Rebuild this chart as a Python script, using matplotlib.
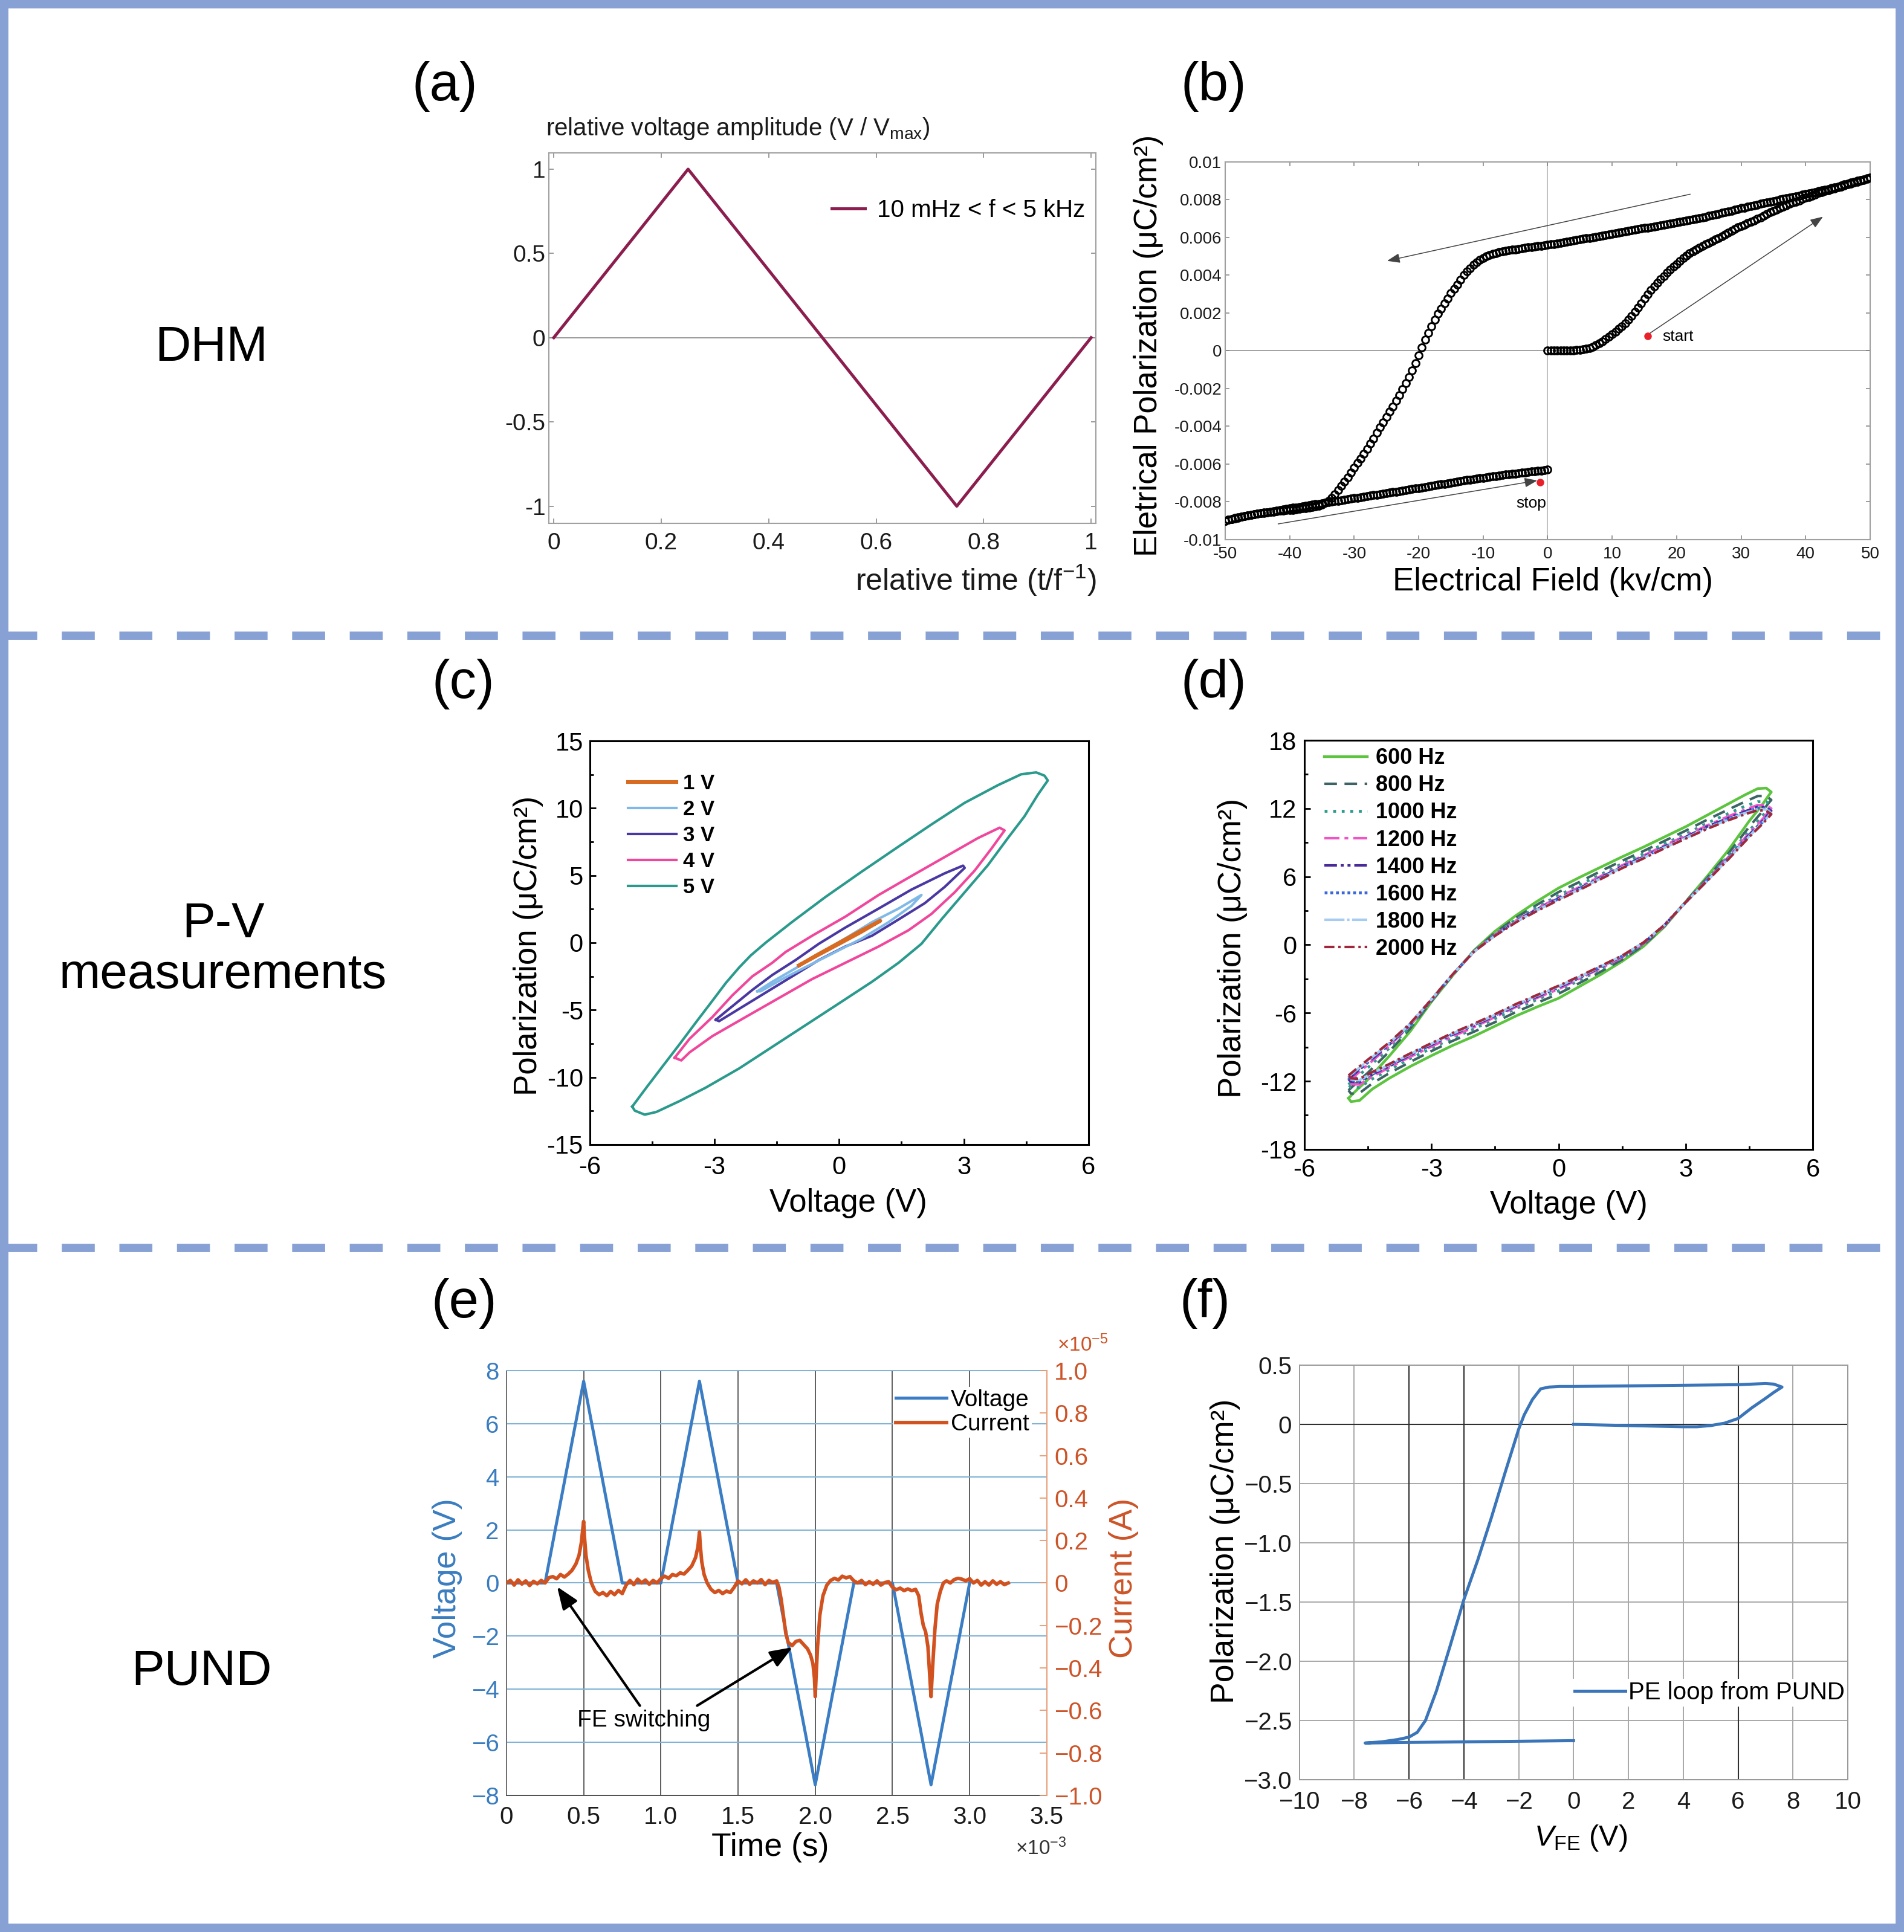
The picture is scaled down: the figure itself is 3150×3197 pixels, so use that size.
import numpy as np
import matplotlib.pyplot as plt
from matplotlib.lines import Line2D
from matplotlib.patches import Rectangle

plt.rcParams['font.family'] = ['Liberation Sans', 'DejaVu Sans']
plt.rcParams['mathtext.fontset'] = 'custom'
plt.rcParams['mathtext.rm'] = 'Liberation Sans'
plt.rcParams['mathtext.it'] = 'Liberation Sans:italic'
plt.rcParams['mathtext.bf'] = 'Liberation Sans:bold'
plt.rcParams['axes.unicode_minus'] = False

# ---------------- (a) DHM drive waveform ----------------
t_a = [0.0, 0.25, 0.75, 1.0]
v_a = [0.0, 1.0, -1.0, 0.0]
a_xticks = [0, 0.2, 0.4, 0.6, 0.8, 1.0]
a_xticklabels = ['0', '0.2', '0.4', '0.6', '0.8', '1']
a_yticks = [-1, -0.5, 0, 0.5, 1]
a_yticklabels = ['-1', '-0.5', '0', '0.5', '1']

# ---------------- (b) DHM loop, P in 1e-3 uC/cm2 ----------------
# field sweep in 0.5 kV/cm steps: 0 -> 50, 50 -> -50, -50 -> 0
E_up = np.linspace(0, 50, 101)
E_down = np.linspace(50, -50, 201)
E_back = np.linspace(-50, 0, 101)
P_up = [0.0, 0.0, 0.0, 0.0, 0.0, 0.0, 0.01, 0.01, 0.02, 0.03,
        0.05, 0.07, 0.1, 0.15, 0.2, 0.3, 0.4, 0.5, 0.62, 0.75,
        0.88, 1.0, 1.15, 1.3, 1.45, 1.65, 1.85, 2.07, 2.3, 2.52,
        2.75, 2.98, 3.2, 3.4, 3.6, 3.78, 3.95, 4.13, 4.3, 4.45,
        4.6, 4.75, 4.9, 5.03, 5.15, 5.25, 5.35, 5.45, 5.55, 5.63,
        5.7, 5.8, 5.9, 5.98, 6.05, 6.15, 6.25, 6.35, 6.45, 6.53,
        6.6, 6.68, 6.75, 6.83, 6.9, 6.98, 7.05, 7.15, 7.25, 7.33,
        7.4, 7.48, 7.55, 7.63, 7.7, 7.78, 7.85, 7.9, 7.95, 8.03,
        8.1, 8.15, 8.2, 8.28, 8.35, 8.4, 8.45, 8.5, 8.55, 8.6,
        8.65, 8.7, 8.75, 8.8, 8.85, 8.9, 8.95, 9.0, 9.05, 9.1,
        9.15]
P_down = [9.15, 9.12, 9.08, 9.04, 9.0, 8.95, 8.9, 8.85, 8.8, 8.75,
          8.7, 8.66, 8.62, 8.57, 8.53, 8.49, 8.45, 8.41, 8.37, 8.33,
          8.3, 8.26, 8.22, 8.18, 8.15, 8.11, 8.08, 8.04, 8.0, 7.96,
          7.93, 7.9, 7.86, 7.82, 7.78, 7.74, 7.7, 7.66, 7.62, 7.58,
          7.55, 7.51, 7.47, 7.42, 7.38, 7.34, 7.3, 7.26, 7.22, 7.18,
          7.14, 7.1, 7.06, 7.02, 6.98, 6.95, 6.92, 6.89, 6.86, 6.83,
          6.8, 6.76, 6.73, 6.7, 6.67, 6.64, 6.61, 6.58, 6.55, 6.52,
          6.5, 6.47, 6.44, 6.41, 6.38, 6.35, 6.32, 6.29, 6.26, 6.23,
          6.2, 6.16, 6.13, 6.1, 6.07, 6.03, 6.0, 5.97, 5.95, 5.92,
          5.89, 5.86, 5.83, 5.8, 5.78, 5.75, 5.72, 5.69, 5.66, 5.63,
          5.6, 5.58, 5.56, 5.54, 5.52, 5.49, 5.47, 5.44, 5.42, 5.4,
          5.37, 5.35, 5.32, 5.29, 5.26, 5.22, 5.18, 5.13, 5.08, 5.0,
          4.92, 4.82, 4.7, 4.55, 4.38, 4.2, 4.0, 3.76, 3.5, 3.28,
          3.05, 2.78, 2.5, 2.23, 1.95, 1.65, 1.3, 0.95, 0.6, 0.18,
          -0.25, -0.65, -1.05, -1.38, -1.7, -2.03, -2.35, -2.65, -2.95, -3.22,
          -3.5, -3.78, -4.05, -4.35, -4.65, -4.93, -5.2, -5.45, -5.7, -5.95,
          -6.2, -6.45, -6.7, -6.93, -7.15, -7.38, -7.6, -7.8, -7.95, -8.06,
          -8.15, -8.2, -8.25, -8.28, -8.3, -8.33, -8.35, -8.38, -8.4, -8.42,
          -8.43, -8.45, -8.46, -8.48, -8.5, -8.52, -8.53, -8.55, -8.57, -8.6,
          -8.62, -8.65, -8.68, -8.72, -8.75, -8.78, -8.82, -8.86, -8.9, -8.95,
          -9.0]
P_back = [-9.0, -8.96, -8.92, -8.88, -8.84, -8.8, -8.77, -8.73, -8.7, -8.67,
          -8.64, -8.61, -8.58, -8.55, -8.52, -8.49, -8.46, -8.43, -8.41, -8.38,
          -8.35, -8.32, -8.3, -8.27, -8.24, -8.21, -8.19, -8.16, -8.13, -8.1,
          -8.08, -8.05, -8.03, -8.0, -7.97, -7.94, -7.92, -7.89, -7.86, -7.83,
          -7.81, -7.78, -7.75, -7.72, -7.7, -7.67, -7.65, -7.62, -7.6, -7.57,
          -7.54, -7.51, -7.49, -7.46, -7.43, -7.4, -7.38, -7.35, -7.32, -7.29,
          -7.27, -7.24, -7.21, -7.18, -7.16, -7.13, -7.1, -7.07, -7.05, -7.02,
          -6.99, -6.96, -6.94, -6.91, -6.88, -6.85, -6.83, -6.8, -6.78, -6.75,
          -6.73, -6.7, -6.68, -6.65, -6.63, -6.61, -6.59, -6.56, -6.54, -6.52,
          -6.5, -6.48, -6.46, -6.44, -6.42, -6.4, -6.38, -6.36, -6.34, -6.32,
          -6.3]
b_xticks = [-50, -40, -30, -20, -10, 0, 10, 20, 30, 40, 50]
b_yticks = [-0.01, -0.008, -0.006, -0.004, -0.002, 0, 0.002, 0.004, 0.006, 0.008, 0.01]
b_yticklabels = ['-0.01', '-0.008', '-0.006', '-0.004', '-0.002', '0',
                 '0.002', '0.004', '0.006', '0.008', '0.01']

# ---------------- (c) P-V loops vs amplitude ----------------
c1_v = [-0.97, -0.5, 0.0, 0.5, 0.99, 0.5, 0.0, -0.5, -0.97]
c1_p = [-1.69, -0.85, 0.0, 0.85, 1.63, 0.75, -0.08, -0.9, -1.69]
c2_v = [-1.97, -1.61, -1.05, -0.41, 0.15, 0.79, 1.43, 1.98,
        1.74, 1.19, 0.55, -0.09, -0.73, -1.37, -1.89, -1.97]
c2_p = [-3.61, -2.9, -1.9, -0.69, 0.32, 1.53, 2.54, 3.55,
        2.74, 1.53, 0.32, -0.69, -1.69, -2.7, -3.61, -3.61]
c3_v = [-2.97, -2.65, -2.09, -1.61, -1.05, -0.49, 0.15, 0.95, 1.74, 2.54, 2.98, 3.02,
        2.54, 2.06, 1.43, 0.79, 0.15, -0.49, -1.13, -1.77, -2.41, -2.89, -2.97]
c3_p = [-5.73, -4.92, -3.51, -2.4, -1.29, -0.08, 1.13, 2.54, 3.95, 5.16, 5.73, 5.56,
        4.15, 2.94, 1.73, 0.52, -0.28, -1.29, -2.5, -3.71, -4.92, -5.83, -5.73]
c4_v = [-3.96, -3.6, -3.05, -2.57, -2.09, -1.61, -1.29, -0.65, 0.15, 0.95, 1.74, 2.54, 3.34, 3.86, 3.98,
        3.66, 3.26, 2.78, 2.22, 1.67, 0.95, 0.15, -0.65, -1.45, -2.25, -3.05, -3.6, -3.8, -3.96]
c4_p = [-8.55, -7.14, -5.52, -3.91, -2.5, -1.49, -0.69, 0.52, 1.94, 3.55, 4.96, 6.37, 7.78, 8.55, 8.35,
        6.98, 5.36, 3.75, 2.14, 0.93, -0.28, -1.49, -2.7, -4.11, -5.52, -6.94, -8.15, -8.75, -8.55]
c5_v = [-4.98, -4.64, -4.24, -3.84, -3.45, -3.05, -2.73, -2.41, -2.13, -1.77, -1.13, -0.33, 0.55,
        1.43, 2.22, 3.02, 3.82, 4.38, 4.74, 4.94, 5.02,
        4.78, 4.46, 4.06, 3.58, 3.02, 2.46, 1.98, 1.43, 0.79, -0.01, -0.81, -1.61, -2.41,
        -3.21, -3.84, -4.4, -4.68, -4.92, -4.98]
c5_p = [-12.18, -10.77, -9.15, -7.54, -5.93, -4.31, -3.0, -1.85, -0.95, 0.0, 1.55, 3.4, 5.3,
        7.15, 8.79, 10.4, 11.71, 12.52, 12.66, 12.42, 12.06,
        11.0, 9.4, 7.78, 5.77, 3.75, 1.73, -0.08, -1.49, -2.9, -4.52, -6.13, -7.74, -9.35,
        -10.77, -11.77, -12.58, -12.78, -12.48, -12.18]
c_labels = ['1 V', '2 V', '3 V', '4 V', '5 V']
c_ticks_x = [-6, -3, 0, 3, 6]
c_ticks_y = [-15, -10, -5, 0, 5, 10, 15]

# ---------------- (d) P-V loops vs frequency ----------------
d_v_up = [-4.96, -4.8, -4.5, -4.0, -3.5, -3.0, -2.5, -2.0, -1.5, -1.0, -0.5, 0.0,
          0.5, 1.0, 1.5, 2.0, 2.5, 3.0, 3.5, 4.0, 4.4, 4.7, 4.9, 5.02]
d_v_dn = [4.95, 4.8, 4.5, 4.0, 3.5, 3.0, 2.5, 2.0, 1.5, 1.0, 0.5, 0.0,
          -0.5, -1.0, -1.5, -2.0, -2.5, -3.0, -3.5, -4.0, -4.4, -4.7, -4.9]
d600_up = [-13.5, -12.9, -11.85, -9.8, -7.6, -5.0, -2.7, -0.5, 1.2, 2.6, 3.85, 5.0,
           5.95, 6.85, 7.75, 8.6, 9.5, 10.4, 11.4, 12.4, 13.2, 13.75, 13.8, 13.45]
d600_dn = [13.1, 12.3, 10.9, 8.3, 6.0, 3.8, 1.6, -0.15, -1.45, -2.6, -3.65, -4.7,
           -5.45, -6.25, -7.15, -8.05, -8.85, -9.75, -10.7, -11.75, -12.7, -13.7, -13.8]
d800_up = [-12.8, -12.25, -11.25, -9.4, -7.35, -4.95, -2.65, -0.55, 1.05, 2.4, 3.55, 4.65,
           5.55, 6.5, 7.4, 8.25, 9.15, 10.05, 11.0, 11.9, 12.6, 13.1, 13.1, 12.75]
d800_dn = [12.45, 11.7, 10.4, 8.0, 5.85, 3.8, 1.65, -0.05, -1.3, -2.35, -3.35, -4.3,
           -5.1, -5.9, -6.8, -7.65, -8.45, -9.35, -10.3, -11.3, -12.2, -13.05, -13.1]
d1000_up = [-12.3, -11.75, -10.8, -9.1, -7.2, -4.9, -2.65, -0.55, 0.95, 2.25, 3.35, 4.35,
            5.3, 6.2, 7.15, 8.0, 8.9, 9.75, 10.7, 11.55, 12.2, 12.6, 12.6, 12.3]
d1000_dn = [11.95, 11.3, 10.05, 7.8, 5.75, 3.75, 1.7, 0.05, -1.15, -2.15, -3.1, -4.05,
            -4.8, -5.6, -6.5, -7.4, -8.2, -9.1, -10.0, -11.0, -11.8, -12.55, -12.55]
d1200_up = [-12.0, -11.5, -10.55, -8.9, -7.05, -4.85, -2.6, -0.6, 0.9, 2.15, 3.2, 4.2,
            5.1, 6.05, 7.0, 7.85, 8.75, 9.6, 10.5, 11.3, 11.9, 12.3, 12.3, 12.0]
d1200_dn = [11.7, 11.0, 9.85, 7.7, 5.7, 3.75, 1.7, 0.1, -1.1, -2.05, -2.95, -3.9,
            -4.65, -5.45, -6.35, -7.25, -8.05, -8.95, -9.85, -10.8, -11.6, -12.3, -12.25]
d1400_up = [-11.8, -11.3, -10.35, -8.8, -7.0, -4.85, -2.6, -0.6, 0.85, 2.1, 3.15, 4.1,
            5.0, 5.95, 6.9, 7.75, 8.65, 9.5, 10.4, 11.15, 11.75, 12.15, 12.1, 11.8]
d1400_dn = [11.5, 10.85, 9.7, 7.6, 5.65, 3.75, 1.75, 0.15, -1.0, -1.95, -2.9, -3.75,
            -4.55, -5.35, -6.25, -7.1, -7.9, -8.8, -9.7, -10.7, -11.4, -12.1, -12.05]
d1600_up = [-11.7, -11.2, -10.3, -8.7, -6.95, -4.8, -2.6, -0.6, 0.85, 2.05, 3.1, 4.05,
            4.95, 5.9, 6.85, 7.7, 8.6, 9.45, 10.3, 11.1, 11.65, 12.05, 12.0, 11.7]
d1600_dn = [11.4, 10.75, 9.65, 7.6, 5.65, 3.75, 1.75, 0.15, -1.0, -1.9, -2.85, -3.7,
            -4.5, -5.3, -6.2, -7.05, -7.85, -8.75, -9.65, -10.6, -11.35, -12.0, -11.95]
d1800_up = [-11.6, -11.1, -10.2, -8.65, -6.95, -4.8, -2.6, -0.6, 0.8, 2.05, 3.05, 4.0,
            4.9, 5.85, 6.8, 7.65, 8.55, 9.4, 10.25, 11.0, 11.6, 11.95, 11.9, 11.6]
d1800_dn = [11.3, 10.7, 9.55, 7.55, 5.6, 3.75, 1.75, 0.2, -0.95, -1.9, -2.8, -3.65,
            -4.45, -5.25, -6.15, -7.0, -7.8, -8.7, -9.6, -10.55, -11.3, -11.9, -11.85]
d2000_up = [-11.5, -11.0, -10.1, -8.6, -6.9, -4.8, -2.6, -0.6, 0.8, 2.0, 3.0, 3.95,
            4.85, 5.8, 6.75, 7.6, 8.5, 9.35, 10.2, 10.95, 11.5, 11.85, 11.8, 11.5]
d2000_dn = [11.2, 10.6, 9.5, 7.5, 5.6, 3.75, 1.75, 0.2, -0.95, -1.85, -2.75, -3.6,
            -4.4, -5.2, -6.1, -6.95, -7.75, -8.65, -9.55, -10.5, -11.2, -11.8, -11.75]
d_labels = ['600 Hz', '800 Hz', '1000 Hz', '1200 Hz', '1400 Hz', '1600 Hz', '1800 Hz', '2000 Hz']
d_ticks_y = [-18, -12, -6, 0, 6, 12, 18]

# ---------------- (e) PUND waveform, time in ms, current in 1e-5 A ----------------
volt_t = [0, 0.25, 0.5, 0.75, 1.0, 1.25, 1.5, 1.75, 2.0, 2.25, 2.5, 2.75, 3.0]
volt_v = [0, 0, 7.6, 0, 0, 7.6, 0, 0, -7.6, 0, 0, -7.6, 0]
curr_pts = [
    (0.0, 0.0), (0.025, 0.012), (0.05, -0.01), (0.075, 0.015), (0.1, -0.005), (0.125, 0.01),
    (0.15, -0.012), (0.175, 0.008), (0.2, -0.004), (0.225, 0.012), (0.25, 0.0), (0.275, 0.025),
    (0.3, 0.03), (0.325, 0.02), (0.35, 0.04), (0.375, 0.028), (0.4, 0.042), (0.425, 0.06),
    (0.45, 0.09), (0.47, 0.13), (0.485, 0.19), (0.495, 0.26), (0.5, 0.29), (0.505, 0.22),
    (0.515, 0.13), (0.53, 0.06), (0.55, 0.0), (0.575, -0.04), (0.6, -0.055), (0.625, -0.045),
    (0.65, -0.06), (0.675, -0.04), (0.7, -0.055), (0.725, -0.035), (0.75, -0.05), (0.775, -0.01),
    (0.8, 0.012), (0.825, -0.008), (0.85, 0.018), (0.875, 0.0), (0.9, 0.014), (0.925, -0.006),
    (0.95, 0.012), (0.975, 0.0), (1.0, 0.02), (1.025, 0.032), (1.05, 0.022), (1.075, 0.04),
    (1.1, 0.034), (1.125, 0.048), (1.15, 0.042), (1.175, 0.06), (1.2, 0.08), (1.225, 0.12),
    (1.24, 0.17), (1.25, 0.24), (1.255, 0.18), (1.265, 0.1), (1.28, 0.04), (1.3, 0.0),
    (1.325, -0.03), (1.35, -0.045), (1.375, -0.035), (1.4, -0.05), (1.425, -0.038), (1.45, -0.045),
    (1.475, -0.02), (1.5, 0.01), (1.525, -0.004), (1.55, 0.015), (1.575, -0.006), (1.6, 0.01),
    (1.625, 0.0), (1.65, 0.016), (1.675, -0.008), (1.7, 0.012), (1.725, 0.002), (1.75, 0.01),
    (1.765, -0.02), (1.78, -0.08), (1.795, -0.16), (1.81, -0.24), (1.825, -0.28), (1.85, -0.295),
    (1.875, -0.275), (1.9, -0.27), (1.925, -0.29), (1.95, -0.31), (1.97, -0.34), (1.985, -0.38),
    (1.995, -0.45), (2.0, -0.535), (2.005, -0.45), (2.015, -0.3), (2.03, -0.15), (2.05, -0.06),
    (2.075, -0.01), (2.1, 0.012), (2.125, 0.022), (2.15, 0.014), (2.175, 0.032), (2.2, 0.024),
    (2.225, 0.03), (2.25, 0.01), (2.275, 0.0), (2.3, 0.012), (2.325, -0.008), (2.35, 0.006),
    (2.375, -0.006), (2.4, 0.01), (2.425, -0.01), (2.45, 0.002), (2.475, 0.006), (2.5, -0.02),
    (2.525, -0.032), (2.55, -0.024), (2.575, -0.036), (2.6, -0.028), (2.625, -0.036), (2.65, -0.03),
    (2.67, -0.06), (2.685, -0.14), (2.7, -0.2), (2.715, -0.23), (2.73, -0.3), (2.74, -0.42),
    (2.75, -0.535), (2.76, -0.4), (2.775, -0.22), (2.79, -0.1), (2.81, -0.04), (2.83, 0.0),
    (2.85, 0.01), (2.875, 0.0), (2.9, 0.016), (2.925, 0.022), (2.95, 0.018), (2.975, 0.01),
    (3.0, 0.02), (3.025, 0.0), (3.05, 0.012), (3.075, -0.01), (3.1, 0.006), (3.125, -0.01),
    (3.15, 0.01), (3.175, -0.006), (3.2, 0.006), (3.225, -0.008), (3.25, 0.0)]
curr_t = [p[0] for p in curr_pts]
curr_i = [p[1] for p in curr_pts]
e_xticks = [0, 0.5, 1.0, 1.5, 2.0, 2.5, 3.0, 3.5]
e_xticklabels = ['0', '0.5', '1.0', '1.5', '2.0', '2.5', '3.0', '3.5']
e_yticks = [-8, -6, -4, -2, 0, 2, 4, 6, 8]
e_yticklabels = ['\u22128', '\u22126', '\u22124', '\u22122', '0', '2', '4', '6', '8']
e_y2ticks = [-1.0, -0.8, -0.6, -0.4, -0.2, 0, 0.2, 0.4, 0.6, 0.8, 1.0]
e_y2ticklabels = ['\u22121.0', '\u22120.8', '\u22120.6', '\u22120.4', '\u22120.2', '0',
                  '0.2', '0.4', '0.6', '0.8', '1.0']

# ---------------- (f) PE loop from PUND ----------------
f_v = [0, 1, 2, 3, 4, 4.5, 5, 5.5, 6, 6.5, 7, 7.3, 7.6,
       7.3, 7.0, 6.0, 4.0, 2.0, 0, -0.5, -0.9, -1.2, -1.5, -1.8, -2.0, -2.5, -3.0,
       -3.5, -4.0, -4.5, -5.0, -5.4, -5.7, -6.0, -6.4, -7.0, -7.6,
       -6.0, -4.0, -2.0, 0.0]
f_p = [0, -0.005, -0.01, -0.015, -0.02, -0.02, -0.01, 0.01, 0.05, 0.14, 0.22, 0.27, 0.315,
       0.34, 0.345, 0.335, 0.33, 0.325, 0.32, 0.32, 0.315, 0.3, 0.21, 0.08, -0.04, -0.41, -0.79,
       -1.15, -1.48, -1.87, -2.25, -2.5, -2.6, -2.64, -2.66, -2.68, -2.69,
       -2.685, -2.68, -2.675, -2.67]
f_xticks = [-10, -8, -6, -4, -2, 0, 2, 4, 6, 8, 10]
f_xticklabels = ['\u221210', '\u22128', '\u22126', '\u22124', '\u22122', '0', '2', '4', '6', '8', '10']
f_yticks = [-3.0, -2.5, -2.0, -1.5, -1.0, -0.5, 0, 0.5]
f_yticklabels = ['\u22123.0', '\u22122.5', '\u22122.0', '\u22121.5', '\u22121.0', '\u22120.5', '0', '0.5']
f_dark_x = [-6, -4, 6]

# =====================================================================
fig = plt.figure(figsize=(31.5, 31.97), dpi=100)
frame_col = '#88a1d5'
fig.add_artist(Rectangle((0, 0), 1, 1, transform=fig.transFigure, fill=False,
                         ec=frame_col, lw=20))
for ysep in (0.6709, 0.3540):
    fig.add_artist(Line2D([0, 1], [ysep, ysep], transform=fig.transFigure,
                          color=frame_col, lw=10, linestyle=(6.36, (3.93, 2.93))))

fig.text(0.1111, 0.8198, 'DHM', fontsize=59, ha='center', va='center')
fig.text(0.1172, 0.5083, 'P-V\nmeasurements', fontsize=59, ha='center', va='center',
         linespacing=1.15)
fig.text(0.1058, 0.1346, 'PUND', fontsize=59, ha='center', va='center')
for lab, x, y in [('(a)', 0.2337, 0.9553), ('(b)', 0.6375, 0.9553),
                  ('(c)', 0.2434, 0.6460), ('(d)', 0.6375, 0.6460),
                  ('(e)', 0.2437, 0.3253), ('(f)', 0.6330, 0.3253)]:
    fig.text(x, y, lab, fontsize=64, ha='center', va='center')

# ---- (a)
ax = fig.add_axes([0.2883, 0.7291, 0.2873, 0.1918])
ax.axhline(0, color='#9a9a9a', lw=1.4, zorder=1)
ax.plot(t_a, v_a, color='#8c1d4f', lw=3.6, label='10 mHz < f < 5 kHz', zorder=3)
ax.set_xlim(-0.009, 1.009)
ax.set_ylim(-1.102, 1.097)
ax.set_xticks(a_xticks, a_xticklabels)
ax.set_yticks(a_yticks, a_yticklabels)
ax.tick_params(direction='in', top=True, right=True, length=6, width=1.2,
               color='#8a8a8a', labelsize=28, labelcolor='#1a1a1a')
ax.tick_params(axis='x', pad=11)
ax.tick_params(axis='y', pad=4)
for s in ax.spines.values():
    s.set_color('#a0a0a0')
    s.set_linewidth(1.5)
ax.text(-0.006, 1.047, 'relative voltage amplitude (V / V$_{\\mathrm{max}}$)',
        transform=ax.transAxes, fontsize=29, ha='left', va='baseline', color='#1a1a1a')
ax.text(1.001, -0.153, 'relative time (t/f$^{\\mathrm{-1}}$)', transform=ax.transAxes,
        fontsize=36, ha='right', va='center', color='#1a1a1a')
ax.legend(loc='center right', bbox_to_anchor=(0.98, 0.845), frameon=False, fontsize=29,
          borderpad=0, borderaxespad=0, handlelength=1.36, handletextpad=0.5)

# ---- (b)
ax = fig.add_axes([0.6435, 0.7207, 0.3387, 0.1955])
ax.axhline(0, color='#9a9a9a', lw=1.3, zorder=1)
ax.axvline(0, color='#b0b0b0', lw=1.1, zorder=1)
for E, P in [(E_up, P_up), (E_down, P_down), (E_back, P_back)]:
    ax.plot(E, np.array(P) * 1e-3, 'o', ms=8.5, mfc='none', mec='black', mew=2.1, zorder=3)
ax.set_xlim(-50, 50)
ax.set_ylim(-0.01, 0.01)
ax.set_xticks(b_xticks, [str(v) for v in b_xticks])
ax.set_yticks(b_yticks, b_yticklabels)
ax.tick_params(direction='in', top=True, right=True, length=5, width=1.1,
               color='#808080', labelsize=20, labelcolor='#1a1a1a')
ax.tick_params(axis='x', pad=8)
ax.tick_params(axis='y', pad=4)
for s in ax.spines.values():
    s.set_color('#a0a0a0')
    s.set_linewidth(1.5)
arrow_b = dict(arrowstyle='-|>,head_length=0.8,head_width=0.3', color='#444444',
               lw=1.1, mutation_scale=16, shrinkA=0, shrinkB=0)
ax.annotate('', xy=(-24.9, 4.76e-3), xytext=(22.1, 8.29e-3), arrowprops=arrow_b)
ax.annotate('', xy=(42.7, 7.1e-3), xytext=(15.9, 0.94e-3), arrowprops=arrow_b)
ax.annotate('', xy=(-1.6, -6.87e-3), xytext=(-41.8, -9.17e-3), arrowprops=arrow_b)
ax.plot([15.5], [0.79e-3], 'o', color='#e8202a', ms=8, zorder=4)
ax.plot([-1.2], [-6.97e-3], 'o', color='#e8202a', ms=8, zorder=4)
ax.text(17.8, 0.75e-3, 'start', fontsize=19, ha='left', va='center')
ax.text(-2.6, -8.07e-3, 'stop', fontsize=19, ha='center', va='center')
ax.text(-0.119, 0.514, 'Eletrical Polarization (\u03bcC/cm\u00b2)', transform=ax.transAxes,
        fontsize=38, rotation=90, ha='center', va='center')
ax.text(0.508, -0.112, 'Electrical Field (kv/cm)', transform=ax.transAxes,
        fontsize=38, ha='center', va='center')

# ---- (c)
ax = fig.add_axes([0.3098, 0.4076, 0.2619, 0.2089])
c_series = [(c1_v, c1_p, '#d86b22', 4.4), (c2_v, c2_p, '#80b9e8', 3.0),
            (c3_v, c3_p, '#4a38a2', 3.0), (c4_v, c4_p, '#f0479c', 3.0),
            (c5_v, c5_p, '#2a9a8d', 3.0)]
handles = []
for k, (v, p, col, lw) in enumerate(c_series):
    h, = ax.plot(v, p, color=col, lw=lw, label=c_labels[k], zorder=10 - k,
                 solid_joinstyle='round')
    handles.append(h)
ax.set_xlim(-6, 6)
ax.set_ylim(-15, 15)
ax.set_xticks(c_ticks_x, [str(v) for v in c_ticks_x])
ax.set_yticks(c_ticks_y, [str(v) for v in c_ticks_y])
ax.set_xticks([-4.5, -1.5, 1.5, 4.5], minor=True)
ax.set_yticks([-12.5, -7.5, -2.5, 2.5, 7.5, 12.5], minor=True)
ax.tick_params(which='both', direction='in', width=2, labelsize=30)
ax.tick_params(which='major', length=7)
ax.tick_params(which='minor', length=4)
ax.tick_params(axis='x', pad=13)
ax.tick_params(axis='y', pad=8)
for s in ax.spines.values():
    s.set_linewidth(2.2)
ax.legend(handles=handles, loc='upper left', bbox_to_anchor=(0.077, 0.919), frameon=False,
          prop={'weight': 'bold', 'size': 25}, borderpad=0, borderaxespad=0,
          handlelength=2.3, handletextpad=0.3, labelspacing=0.29)
ax.text(-0.124, 0.493, 'Polarization (\u03bcC/cm\u00b2)', transform=ax.transAxes,
        fontsize=38, rotation=90, ha='center', va='center')
ax.text(0.518, -0.145, 'Voltage (V)', transform=ax.transAxes, fontsize=38,
        ha='center', va='center')

# ---- (d)
ax = fig.add_axes([0.6851, 0.4051, 0.2670, 0.2117])
d_series = [(d600_up, d600_dn, '#5cc43e', '-', 3.2),
            (d800_up, d800_dn, '#3d6464', (0, (5, 3)), 3.0),
            (d1000_up, d1000_dn, '#2e9c8c', (0, (1, 2)), 3.4),
            (d1200_up, d1200_dn, '#f055c8', (0, (6, 2, 1.5, 2)), 3.0),
            (d1400_up, d1400_dn, '#4a2a98', (0, (5, 1.5, 1.2, 1.5, 1.2, 1.5)), 3.0),
            (d1600_up, d1600_dn, '#3a68d8', (0, (1, 1)), 3.4),
            (d1800_up, d1800_dn, '#a6cdf0', (0, (8, 1, 1, 1)), 3.0),
            (d2000_up, d2000_dn, '#a0283c', (0, (4, 1.5, 1, 1.5)), 3.0)]
for k, (pu, pd, col, ls, lw) in enumerate(d_series):
    ax.plot(d_v_up + d_v_dn + d_v_up[:1], pu + pd + pu[:1], color=col, ls=ls, lw=lw,
            label=d_labels[k], solid_joinstyle='round')
ax.set_xlim(-6, 6)
ax.set_ylim(-18, 18)
ax.set_xticks(c_ticks_x, [str(v) for v in c_ticks_x])
ax.set_yticks(d_ticks_y, [str(v) for v in d_ticks_y])
ax.set_xticks([-4.5, -1.5, 1.5, 4.5], minor=True)
ax.set_yticks([-15, -9, -3, 3, 9, 15], minor=True)
ax.tick_params(which='both', direction='in', width=2, labelsize=30)
ax.tick_params(which='major', length=7)
ax.tick_params(which='minor', length=4)
ax.tick_params(axis='x', pad=10)
ax.tick_params(axis='y', pad=9)
for s in ax.spines.values():
    s.set_linewidth(2.2)
ax.legend(loc='upper left', bbox_to_anchor=(0.039, 0.982), frameon=False,
          prop={'weight': 'bold', 'size': 26}, borderpad=0, borderaxespad=0,
          handlelength=1.97, handletextpad=0.4, labelspacing=0.28)
ax.text(-0.1415, 0.492, 'Polarization (\u03bcC/cm\u00b2)', transform=ax.transAxes,
        fontsize=38, rotation=90, ha='center', va='center')
ax.text(0.520, -0.136, 'Voltage (V)', transform=ax.transAxes, fontsize=38,
        ha='center', va='center')

# ---- (e)
ax = fig.add_axes([0.2660, 0.0707, 0.2838, 0.2199])
ax.set_xlim(0, 3.5)
ax.set_ylim(-8, 8)
ax.set_xticks(e_xticks, e_xticklabels)
ax.set_yticks(e_yticks, e_yticklabels)
ax.grid(axis='x', color='#505050', lw=1.3)
ax.grid(axis='y', color='#80b3d4', lw=1.5)
ax.set_axisbelow(True)
hv, = ax.plot(volt_t, volt_v, color='#3b7dc4', lw=3.6, label='Voltage')
ax.tick_params(length=0, labelsize=29)
ax.tick_params(axis='y', labelcolor='#3a7dbf', pad=9)
ax.tick_params(axis='x', pad=12, labelcolor='#1a1a1a')
ax.spines['left'].set_color('#707070')
ax.spines['bottom'].set_color('#505050')
ax.spines['top'].set_color('#80b3d4')
ax.spines['right'].set_visible(False)
for s in ('left', 'bottom', 'top'):
    ax.spines[s].set_linewidth(1.4)
ax2 = ax.twinx()
ax2.set_ylim(-1, 1)
hc, = ax2.plot(curr_t, curr_i, color='#d2521f', lw=4.2, label='Current')
ax2.set_yticks(e_y2ticks, e_y2ticklabels)
ax2.tick_params(axis='y', direction='in', length=9, width=1.3, color='#e59a72',
                labelcolor='#cc5428', labelsize=29, pad=9)
for s in ('left', 'bottom', 'top'):
    ax2.spines[s].set_visible(False)
ax2.spines['right'].set_color('#e8a07a')
ax2.spines['right'].set_linewidth(1.5)
ax2.legend(handles=[hv, hc], loc='upper right', bbox_to_anchor=(0.972, 0.962), fontsize=28,
           frameon=True, facecolor='white', edgecolor='none', framealpha=1, fancybox=False,
           borderpad=0.1, borderaxespad=0, handlelength=2.15, handletextpad=0.19,
           labelspacing=0.12)
arrow_e = dict(arrowstyle='-|>,head_length=0.9,head_width=0.35', color='black',
               lw=3.0, mutation_scale=25, shrinkA=0, shrinkB=0)
ax2.annotate('', xy=(0.328, -0.14), xycoords=ax.transData, xytext=(0.864, -4.62),
             textcoords=ax.transData, arrowprops=arrow_e)
ax2.annotate('', xy=(1.853, -2.42), xycoords=ax.transData, xytext=(1.235, -4.62),
             textcoords=ax.transData, arrowprops=arrow_e)
ax.text(0.891, -5.18, 'FE switching', fontsize=28, ha='center', va='center', zorder=5)
ax.text(-0.110, 0.511, 'Voltage (V)', transform=ax.transAxes, fontsize=38.5,
        rotation=90, ha='center', va='center', color='#3a7dbf')
ax.text(1.142, 0.511, 'Current (A)', transform=ax.transAxes, fontsize=38.5,
        rotation=90, ha='center', va='center', color='#cc5428')
ax.text(0.488, -0.122, 'Time (s)', transform=ax.transAxes, fontsize=38.5,
        ha='center', va='center')
ax.text(0.989, -0.125, '\u00d710$^{-3}$', transform=ax.transAxes, fontsize=24,
        ha='center', va='center', color='#333333')
ax.text(1.067, 1.060, '\u00d710$^{-5}$', transform=ax.transAxes, fontsize=24,
        ha='center', va='center', color='#cc5428')

# ---- (f)
ax = fig.add_axes([0.6824, 0.0788, 0.2881, 0.2146])
ax.set_xlim(-10, 10)
ax.set_ylim(-3.0, 0.5)
ax.set_xticks(f_xticks, f_xticklabels)
ax.set_yticks(f_yticks, f_yticklabels)
ax.grid(True, color='#a8a8a8', lw=1.4)
ax.set_axisbelow(True)
for xv in f_dark_x:
    ax.axvline(xv, color='#303030', lw=1.5, zorder=1)
ax.axhline(0, color='#303030', lw=1.5, zorder=1)
ax.plot(f_v, f_p, color='#3b75b9', lw=3.6, label='PE loop from PUND', zorder=3,
        solid_joinstyle='round')
ax.tick_params(length=0, labelsize=29, labelcolor='#1a1a1a')
ax.tick_params(axis='x', pad=13)
ax.tick_params(axis='y', pad=9)
for s in ax.spines.values():
    s.set_color('#9a9a9a')
    s.set_linewidth(1.4)
ax.legend(loc='center left', bbox_to_anchor=(0.4975, 0.21), fontsize=29,
          frameon=True, facecolor='white', edgecolor='none', framealpha=1, fancybox=False,
          borderpad=0.1, borderaxespad=0, handlelength=2.09, handletextpad=0.13)
ax.text(-0.135, 0.552, 'Polarization (\u03bcC/cm\u00b2)', transform=ax.transAxes,
        fontsize=38.5, rotation=90, ha='center', va='center')
ax.text(0.513, -0.140, '$V_{\\mathrm{FE}}$ (V)', transform=ax.transAxes, fontsize=35,
        ha='center', va='center')

fig.savefig('out.png', dpi=100)
